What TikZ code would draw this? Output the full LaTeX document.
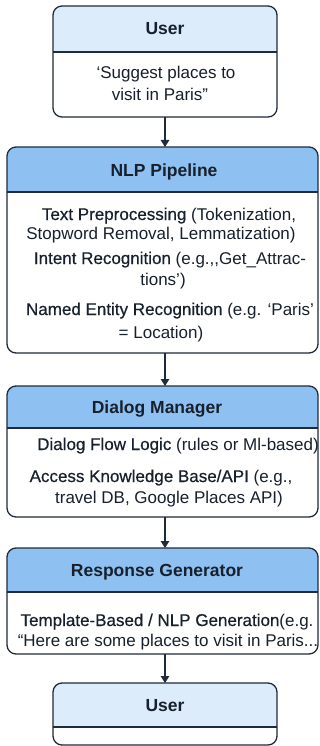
\documentclass[tikz,border=0pt]{standalone}
\usepackage{fontspec}
\setmainfont{Liberation Sans}
\newfontfamily\medfont[FakeBold=0.5]{Liberation Sans}
\usetikzlibrary{arrows.meta}

\definecolor{edgecol}{HTML}{1F2B3A}
\definecolor{textcol}{HTML}{17202C}
\definecolor{hdrblue}{HTML}{8EC1F1}
\definecolor{hdrlight}{HTML}{DCECFA}

\tikzset{
  panel/.style={draw=edgecol, line width=1.3pt, rounded corners=9pt,
    inner sep=0pt, outer sep=0pt},
  header/.style 2 args={panel, path picture={
    \fill[#1, sharp corners] (path picture bounding box.north west)
      rectangle ([yshift=-#2]path picture bounding box.north east);
    \draw[edgecol, line width=1.3pt, sharp corners]
      ([yshift=-#2]path picture bounding box.north west) --
      ([yshift=-#2]path picture bounding box.north east);
  }},
  txt/.style={text=textcol, inner sep=0pt, anchor=base,
    font=\fontsize{17}{20}\selectfont},
  ttl/.style={txt, font=\bfseries\fontsize{17.5}{20}\selectfont},
  flow/.style={draw=edgecol, line width=1.3pt,
    -{Triangle[length=7pt,width=8.5pt]}},
}

\begin{document}
\begin{tikzpicture}[x=1pt, y=-1pt]
  \useasboundingbox[fill=white] (0,0) rectangle (320,746);

  % boxes
  \node[header={hdrlight}{46pt}, minimum width=224pt, minimum height=111pt] (user1) at (165,61.5) {};
  \node[header={hdrblue}{45pt}, minimum width=311pt, minimum height=206pt] (nlp) at (162.5,250) {};
  \node[header={hdrblue}{42pt}, minimum width=311pt, minimum height=131pt] (dialog) at (162.5,451.5) {};
  \node[header={hdrblue}{44pt}, minimum width=311pt, minimum height=106pt] (resp) at (162.5,601) {};
  \node[header={hdrlight}{44pt}, minimum width=224pt, minimum height=62pt] (user2) at (165,714) {};

  % user request
  \node[ttl] (u1t) at (165,35) {User};
  \node[txt] (u1a) at (166,79) {‘Suggest places to};
  \node[txt] (u1b) at (160,101) {visit in Paris”};

  % NLP pipeline
  \node[ttl] (nlpt) at (164,176) {NLP Pipeline};
  \node[txt] (n1a) at (169,220) {{\medfont Text Preprocessing} (Tokenization,};
  \node[txt] (n1b) at (161,239) {Stopword Removal, Lemmatization)};
  \node[txt] (n2a) at (170,264) {{\medfont Intent Recognition} (e.g.,{},Get\_Attrac-};
  \node[txt] (n2b) at (163,285) {tions’)};
  \node[txt] (n3a) at (170,315) {{\medfont Named Entity Recognition} (e.g. ‘Paris’};
  \node[txt] (n3b) at (161,338) {= Location)};

  % dialog manager
  \node[ttl] (dmt) at (157,413) {Dialog Manager};
  \node[txt] (d1) at (178,450) {{\medfont Dialog Flow Logic} (rules or Ml-based)};
  \node[txt] (d2a) at (161,482) {{\medfont Access Knowledge Base/API} (e.g.,};
  \node[txt] (d2b) at (169,503) {travel DB, Google Places API)};

  % response generator
  \node[ttl] (rgt) at (157,576) {Response Generator};
  \node[txt] (r1) at (167,626) {{\medfont Template-Based / NLP Generation}(e.g.};
  \node[txt] (r2) at (168,646) {“Here are some places to visit in Paris...};

  % user reply
  \node[ttl] (u2t) at (165,711) {User};

  % connectors
  \draw[flow] (user1.south) -- (user1.south |- nlp.north);
  \draw[flow] (nlp.south -| user1.south) -- (dialog.north -| user1.south);
  \draw[flow] (dialog.south -| user1.south) -- (resp.north -| user1.south);
  \draw[flow] (resp.south -| user1.south) -- (user2.north);
\end{tikzpicture}
\end{document}
